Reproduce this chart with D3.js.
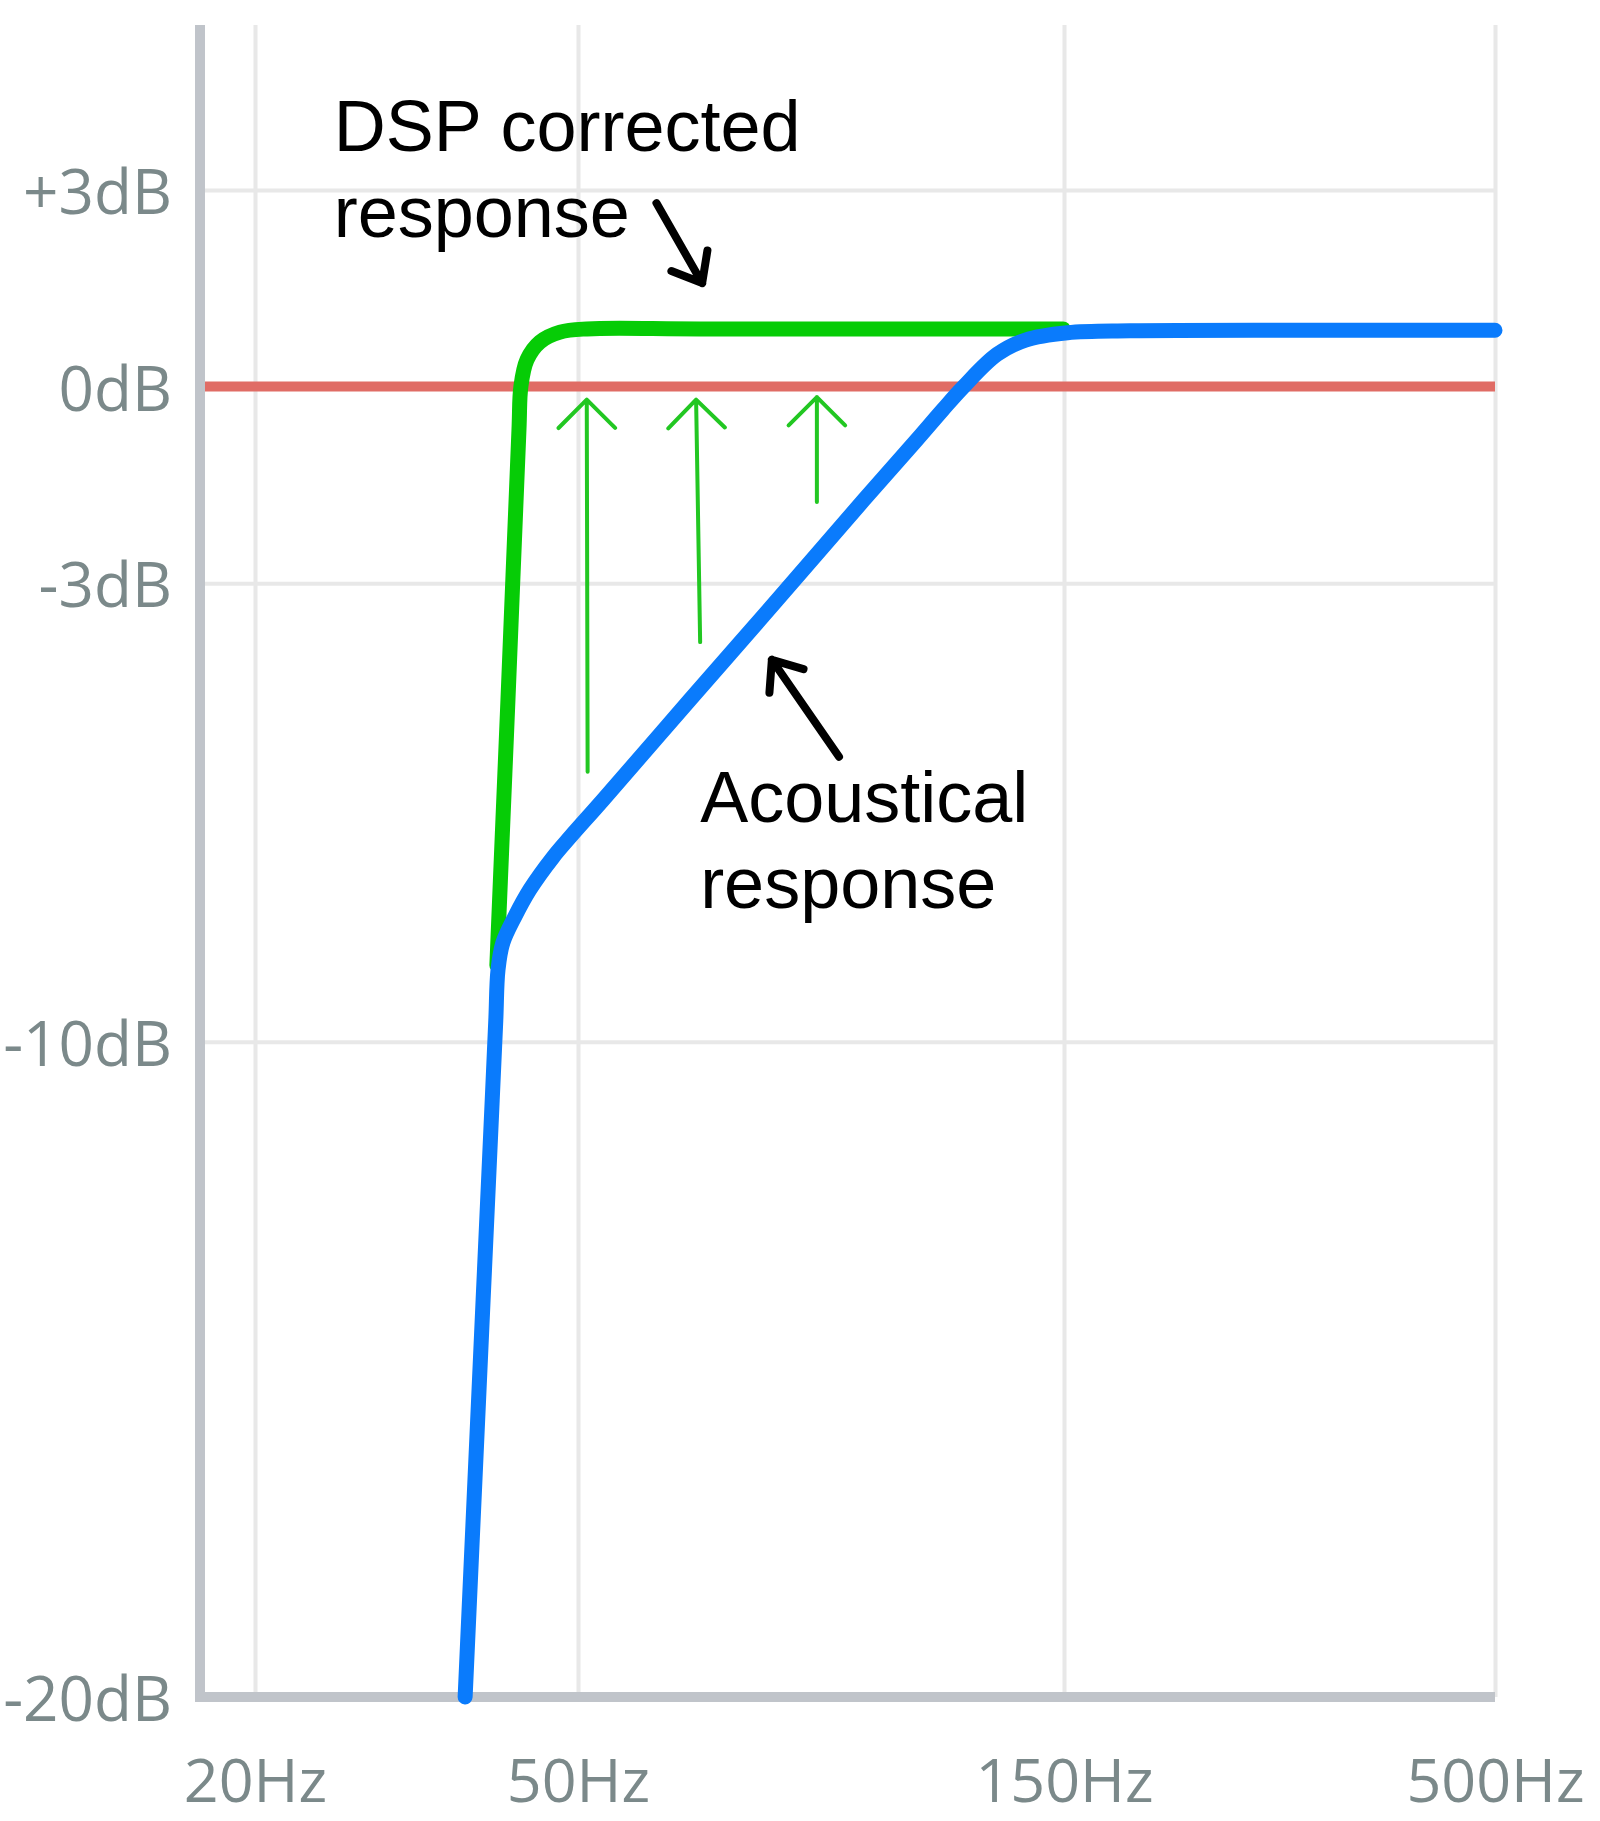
<!DOCTYPE html>
<html>
<head>
<meta charset="utf-8">
<script src="https://cdn.jsdelivr.net/npm/d3@7"></script>
<style>
	body { margin: 0; background: #fff; }
	svg { display: block; }
</style>
</head>
<body>
<svg id="chart"></svg>
<script>

// Eixos
var freqTicks = [20, 50, 150, 500];
var freqLabels = ["20Hz", "50Hz", "150Hz", "500Hz"];
var dbTicks = [3, 0, -3, -10, -20];
var dbLabels = ["+3dB", "0dB", "-3dB", "-10dB", "-20dB"];

// Resposta acustica (azul)
var acousticFreq = [36.3, 38.2, 39.2, 39.6, 39.85, 40.4, 41.8, 43.6, 46.6, 48.94, 52.9, 64.4, 78.4, 95.4, 107.5, 114.0, 119.4, 128.9, 137.5, 151.5, 180.4, 290, 500];
var acousticDb = [-20, -13.94, -10.89, -9.67, -8.9, -8.49, -8.09, -7.68, -7.18, -6.87, -6.31, -4.78, -3.26, -1.73, -0.815, -0.357, -0.01, 0.49, 0.71, 0.82, 0.85, 0.86, 0.86];

// Resposta corrigida pelo DSP (verde)
var correctedFreq = [39.72, 40.41, 40.99, 42.29, 42.53, 43.27, 44.89, 47.52, 51.0, 65.9, 129.8, 149.7];
var correctedDb = [-8.83, -6.61, -4.78, -0.66, 0.01, 0.41, 0.68, 0.83, 0.88, 0.88, 0.88, 0.88];

// Setas verdes (ganho)
var boostFreqFrom = [51.1, 65.9, 85.8];
var boostDbFrom = [-5.88, -3.9, -1.76];
var boostFreqTo = [51.0, 65.3, 85.8];
var boostDbTo = [-0.2, -0.2, -0.16];

// Anotacoes
var noteLines = [["DSP corrected", "response"], ["Acoustical", "response"]];
var noteFreq = [25.0, 65.9];
var noteDb = [3.59, -6.64];
var calloutFreqFrom = [59.7, 90.2];
var calloutDbFrom = [2.8, -5.65];
var calloutFreqTo = [66.2, 77.5];
var calloutDbTo = [1.58, -4.17];

var width = 1600, height = 1821,
frame = {left: 200, top: 25, bottom: 1697, right: 1495};

var svg = d3.select("#chart")
.attr("width", width)
.attr("height", height);

var x = d3.scaleLog()
.domain(freqTicks)
.range([255, 578, 1064, 1495]);

var y = d3.scaleLinear()
.domain([-20, 3])
.range([frame.bottom, 190]);

var labelFont = "'Open Sans', 'Noto Sans', sans-serif",
noteFont = "'Liberation Sans', Arial, sans-serif";

// Grade vertical + rotulos de frequencia
var xAxis = svg.append("g")
.attr("transform", "translate(0," + frame.bottom + ")")
.call(d3.axisBottom(x)
	.tickValues(freqTicks)
	.tickFormat(function(d, i) { return freqLabels[i]; })
	.tickSize(-(frame.bottom - frame.top))
	.tickPadding(62));
xAxis.select(".domain").remove();
xAxis.selectAll(".tick line").attr("stroke", "#e8e8e8").attr("stroke-width", 4);
xAxis.selectAll(".tick text")
.attr("fill", "#7b898a")
.style("font-family", labelFont)
.style("font-size", "61px");

// Grade horizontal + rotulos de dB
var yAxis = svg.append("g")
.attr("transform", "translate(" + frame.left + ",0)")
.call(d3.axisLeft(y)
	.tickValues(dbTicks)
	.tickFormat(function(d, i) { return dbLabels[i]; })
	.tickSize(-(frame.right - frame.left))
	.tickPadding(28));
yAxis.select(".domain").remove();
yAxis.selectAll(".tick line").attr("stroke", "#e8e8e8").attr("stroke-width", 4);
yAxis.selectAll(".tick text")
.attr("dy", "0.38em")
.attr("fill", "#7b898a")
.style("font-family", labelFont)
.style("font-size", "62px");

// Linha de referencia 0dB
svg.append("line")
.attr("x1", frame.left)
.attr("x2", x(500))
.attr("y1", y(0))
.attr("y2", y(0))
.attr("stroke", "#e06c65")
.attr("stroke-width", 10);

// Eixos (moldura)
svg.append("line")
.attr("x1", frame.left).attr("x2", frame.left)
.attr("y1", frame.top).attr("y2", frame.bottom + 5)
.attr("stroke", "#c0c4ca")
.attr("stroke-width", 10);
svg.append("line")
.attr("x1", frame.left - 5).attr("x2", frame.right)
.attr("y1", frame.bottom).attr("y2", frame.bottom)
.attr("stroke", "#c0c4ca")
.attr("stroke-width", 10);

// Cabeca de seta: asas a partir da ponta
function arrowPath(x0, y0, x1, y1, len, spread){
	var a = Math.atan2(y0 - y1, x0 - x1);
	var w1 = [x1 + len * Math.cos(a - spread), y1 + len * Math.sin(a - spread)],
	w2 = [x1 + len * Math.cos(a + spread), y1 + len * Math.sin(a + spread)];
	return "M" + x0 + "," + y0 + "L" + x1 + "," + y1 +
	"M" + w1[0] + "," + w1[1] + "L" + x1 + "," + y1 + "L" + w2[0] + "," + w2[1];
}

// Setas verdes
svg.append("g")
.selectAll("path")
.data(boostFreqFrom)
.enter().append("path")
.attr("d", function(d, i) {
	return arrowPath(x(d), y(boostDbFrom[i]), x(boostFreqTo[i]), y(boostDbTo[i]), 40, Math.PI / 4);
})
.attr("fill", "none")
.attr("stroke", "#22c722")
.attr("stroke-width", 4)
.attr("stroke-linecap", "round")
.attr("stroke-linejoin", "round");

var line = d3.line()
.x(function(d) { return x(d[0]); })
.y(function(d) { return y(d[1]); })
.curve(d3.curveCatmullRom.alpha(0.5));

// Curvas
svg.append("path")
.datum(d3.zip(correctedFreq, correctedDb))
.attr("d", line)
.attr("fill", "none")
.attr("stroke", "#06cc06")
.attr("stroke-width", 15)
.attr("stroke-linecap", "round")
.attr("stroke-linejoin", "round");

svg.append("path")
.datum(d3.zip(acousticFreq, acousticDb))
.attr("d", line)
.attr("fill", "none")
.attr("stroke", "#0a7bfc")
.attr("stroke-width", 15)
.attr("stroke-linecap", "round")
.attr("stroke-linejoin", "round");

// Setas pretas
svg.append("g")
.selectAll("path")
.data(calloutFreqFrom)
.enter().append("path")
.attr("d", function(d, i) {
	return arrowPath(x(d), y(calloutDbFrom[i]), x(calloutFreqTo[i]), y(calloutDbTo[i]), 33, 0.68);
})
.attr("fill", "none")
.attr("stroke", "#000")
.attr("stroke-width", 8)
.attr("stroke-linecap", "round")
.attr("stroke-linejoin", "round");

// Textos
var notes = svg.append("g")
.selectAll("text")
.data(noteLines)
.enter().append("text")
.attr("x", function(d, i) { return x(noteFreq[i]); })
.attr("y", function(d, i) { return y(noteDb[i]); })
.attr("fill", "#000")
.style("font-family", noteFont)
.style("font-size", "72px");

notes.selectAll("tspan")
.data(function(d) { return d; })
.enter().append("tspan")
.attr("x", function() { return this.parentNode.getAttribute("x"); })
.attr("dy", function(d, i) { return i === 0 ? 0 : 86; })
.text(function(d) { return d; });

</script>
</body>
</html>
